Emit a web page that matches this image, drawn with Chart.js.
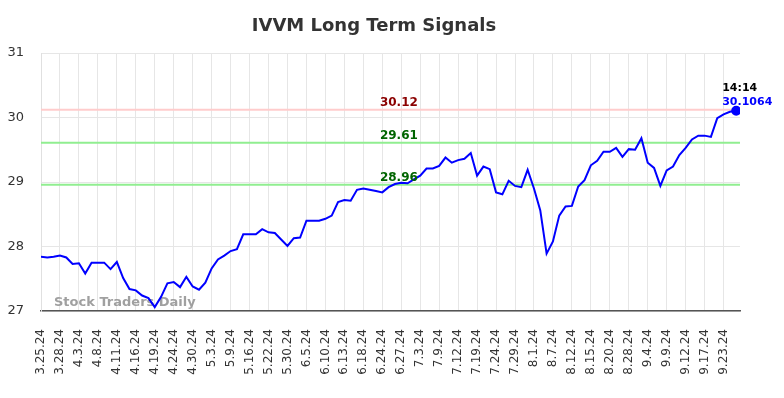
<!DOCTYPE html>
<html>
<head>
<meta charset="utf-8">
<script src="https://cdn.jsdelivr.net/npm/chart.js@4.4.1/dist/chart.umd.min.js"></script>
<style>
  html, body { margin: 0; padding: 0; background: #fff; }
  #wrap { width: 784px; height: 398px; }
</style>
</head>
<body>
<div id="wrap"><canvas id="signalChart"></canvas></div>
<script>
const dates = [
  '3.25.24','3.26.24','3.27.24','3.28.24','4.1.24','4.2.24','4.3.24','4.4.24','4.5.24','4.8.24',
  '4.9.24','4.10.24','4.11.24','4.12.24','4.15.24','4.16.24','4.17.24','4.18.24','4.19.24','4.22.24',
  '4.23.24','4.24.24','4.25.24','4.29.24','4.30.24','5.1.24','5.2.24','5.3.24','5.6.24','5.8.24',
  '5.9.24','5.10.24','5.14.24','5.16.24','5.17.24','5.21.24','5.22.24','5.23.24','5.28.24','5.30.24',
  '5.31.24','6.4.24','6.5.24','6.6.24','6.7.24','6.10.24','6.11.24','6.12.24','6.13.24','6.14.24',
  '6.17.24','6.18.24','6.20.24','6.21.24','6.24.24','6.25.24','6.26.24','6.27.24','7.1.24','7.2.24',
  '7.3.24','7.5.24','7.8.24','7.9.24','7.10.24','7.11.24','7.12.24','7.16.24','7.18.24','7.19.24',
  '7.22.24','7.23.24','7.24.24','7.25.24','7.26.24','7.29.24','7.30.24','7.31.24','8.1.24','8.5.24',
  '8.6.24','8.7.24','8.8.24','8.9.24','8.12.24','8.13.24','8.14.24','8.15.24','8.16.24','8.19.24',
  '8.20.24','8.22.24','8.26.24','8.28.24','8.29.24','9.3.24','9.4.24','9.5.24','9.6.24','9.9.24',
  '9.10.24','9.11.24','9.12.24','9.13.24','9.16.24','9.17.24','9.19.24','9.20.24','9.23.24','9.24.24',
  '9.25.24'
];
const closes = [
  27.84, 27.83, 27.84, 27.86, 27.83, 27.73, 27.74, 27.58, 27.75, 27.75,
  27.75, 27.65, 27.76, 27.51, 27.34, 27.32, 27.24, 27.20, 27.06, 27.22,
  27.43, 27.45, 27.37, 27.53, 27.38, 27.33, 27.44, 27.66, 27.80, 27.86,
  27.93, 27.96, 28.19, 28.19, 28.19, 28.27, 28.22, 28.21, 28.11, 28.01,
  28.13, 28.14, 28.40, 28.40, 28.40, 28.43, 28.48, 28.69, 28.72, 28.71,
  28.88, 28.90, 28.88, 28.86, 28.84, 28.92, 28.97, 28.99, 28.98, 29.04,
  29.10, 29.21, 29.21, 29.25, 29.38, 29.30, 29.34, 29.36, 29.45, 29.10,
  29.24, 29.20, 28.84, 28.81, 29.02, 28.94, 28.92, 29.19, 28.90, 28.56,
  27.89, 28.08, 28.48, 28.62, 28.63, 28.93, 29.03, 29.26, 29.33, 29.47,
  29.47, 29.53, 29.39, 29.51, 29.50, 29.68, 29.30, 29.22, 28.94, 29.18,
  29.24, 29.42, 29.53, 29.66, 29.72, 29.72, 29.70, 29.99, 30.05, 30.09,
  30.1064
];
const levels = [30.12, 29.61, 28.96];
const levelLineColors = ['#ffcccc', '#90ee90', '#90ee90'];
const levelTextColors = ['#8b0000', '#006400', '#006400'];
const yRange = [27, 31];
const lastTime = '14:14';
const tickEvery = 3;

const font = "'DejaVu Sans', sans-serif";

// signal lines + watermark under the price line
const underlay = {
  id: 'underlay',
  beforeDatasetsDraw(chart) {
    const { ctx, chartArea: a, scales: { y } } = chart;
    ctx.save();
    levels.forEach((v, i) => {
      const py = y.getPixelForValue(v);
      ctx.strokeStyle = levelLineColors[i];
      ctx.lineWidth = 2;
      ctx.beginPath();
      ctx.moveTo(a.left, py);
      ctx.lineTo(a.right, py);
      ctx.stroke();
    });
    ctx.font = 'bold 13px ' + font;
    ctx.fillStyle = 'rgba(150,150,150,0.9)';
    ctx.textAlign = 'left';
    ctx.textBaseline = 'alphabetic';
    ctx.fillText('Stock Traders Daily', a.left + 13, a.bottom - 5);
    ctx.restore();
  }
};

const overlay = {
  id: 'overlay',
  afterDatasetsDraw(chart) {
    const { ctx, chartArea: a, scales: { y } } = chart;
    ctx.save();
    ctx.font = 'bold 12px ' + font;
    ctx.textAlign = 'center';
    ctx.textBaseline = 'alphabetic';
    const cx = a.left + a.width * 0.512;
    levels.forEach((v, i) => {
      ctx.fillStyle = levelTextColors[i];
      ctx.fillText(v.toFixed(2), cx, y.getPixelForValue(v) - 4);
    });
    const meta = chart.getDatasetMeta(0);
    const pt = meta.data[meta.data.length - 1];
    ctx.textAlign = 'left';
    ctx.font = 'bold 11px ' + font;
    ctx.fillStyle = '#000';
    ctx.fillText(lastTime, pt.x - 14, pt.y - 20);
    ctx.fillStyle = '#0000ff';
    ctx.fillText(String(closes[closes.length - 1]), pt.x - 14, pt.y - 6);
    ctx.restore();
  }
};

new Chart(document.getElementById('signalChart'), {
  type: 'line',
  data: {
    datasets: [{
      data: closes.map((v, i) => ({ x: i, y: v })),
      borderColor: '#0000ff',
      borderWidth: 2,
      tension: 0,
      fill: false,
      pointRadius: ctx => ctx.dataIndex === closes.length - 1 ? 4 : 0,
      pointBackgroundColor: '#0000ff',
      pointBorderColor: '#0000ff'
    }]
  },
  options: {
    responsive: true,
    maintainAspectRatio: false,
    animation: false,
    devicePixelRatio: 1,
    layout: { padding: { left: 8, right: 44, top: 0, bottom: 0 } },
    plugins: {
      legend: { display: false },
      tooltip: { enabled: false },
      title: {
        display: true,
        text: 'IVVM Long Term Signals',
        color: '#333',
        font: { family: font, size: 18, weight: 'bold' },
        padding: { top: 16, bottom: 15.5 }
      }
    },
    scales: {
      x: {
        type: 'linear',
        min: 0,
        max: closes.length - 1 + 0.6,
        afterBuildTicks: s => { s.ticks = s.ticks.filter(t => Number.isInteger(t.value) && t.value % tickEvery === 0); },
        afterFit: s => { s.height = 87; },
        grid: { color: '#e6e6e6', drawTicks: false },
        border: { color: '#555', width: 1.5 },
        ticks: {
          stepSize: tickEvery,
          autoSkip: false,
          minRotation: 90,
          maxRotation: 90,
          padding: 18,
          color: '#333',
          font: { family: font, size: 12 },
          callback: v => dates[v]
        }
      },
      y: {
        min: yRange[0],
        max: yRange[1],
        afterFit: s => { s.width = 33; },
        grid: { color: '#e6e6e6', drawTicks: false },
        border: { color: '#e0e0e0' },
        ticks: {
          stepSize: 1,
          padding: 17,
          color: '#333',
          font: { family: font, size: 13 }
        }
      }
    }
  },
  plugins: [underlay, overlay]
});
</script>
</body>
</html>
